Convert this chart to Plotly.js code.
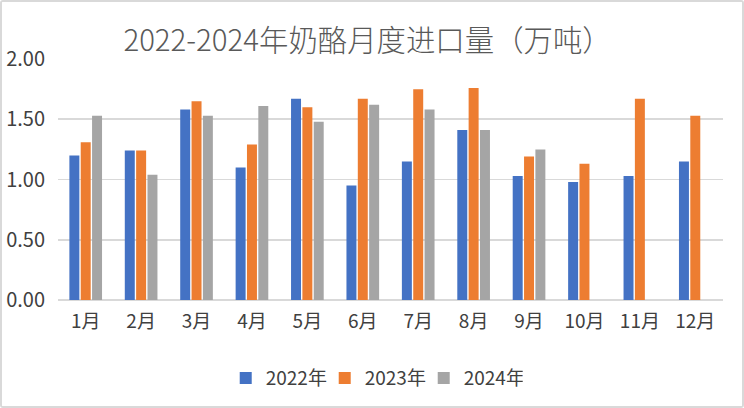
<!DOCTYPE html>
<html>
<head>
<meta charset="utf-8">
<script src="https://cdn.plot.ly/plotly-3.0.1.min.js"></script>
<style>
html,body{margin:0;padding:0;background:#fff;}
#wrap{width:744px;height:408px;box-sizing:border-box;border:2px solid #d9d9d9;border-radius:3px;overflow:hidden;}
#chart{width:740px;height:404px;}
</style>
</head>
<body>
<div id="wrap"><div id="chart"></div></div>
<script>
const months = ["1月","2月","3月","4月","5月","6月","7月","8月","9月","10月","11月","12月"];
const v2022 = [1.20,1.24,1.58,1.10,1.67,0.95,1.15,1.41,1.03,0.98,1.03,1.15];
const v2023 = [1.31,1.24,1.65,1.29,1.60,1.67,1.75,1.76,1.19,1.13,1.67,1.53];
const v2024 = [1.53,1.04,1.53,1.61,1.48,1.62,1.58,1.41,1.25,null,null,null];
const seriesNames = ["2022年","2023年","2024年"];
const colors = ["#4472C4","#ED7D31","#A5A5A5"];
const titleText = "2022-2024年奶酪月度进口量（万吨）";
const yTicks = [0,0.5,1,1.5,2];

const FONT = '"Noto Sans CJK SC", "Noto Sans", sans-serif';
const data = [v2022,v2023,v2024].map((vals,i)=>({
  type:'bar', x:months, y:vals, name:seriesNames[i],
  marker:{color:colors[i], line:{width:0}},
  hoverinfo:'x+y+name'
}));

const layout = {
  width:740, height:404,
  margin:{l:56, r:19, t:57, b:106},
  paper_bgcolor:'#fff', plot_bgcolor:'#fff',
  font:{family:FONT, size:19, color:'#404040'},
  title:{text:titleText, font:{family:FONT, size:29.4, color:'#595959', weight:300},
         x:0.494, xref:'container', xanchor:'center', y:0.905, yref:'container', yanchor:'middle'},
  barmode:'group', bargap:0.386, bargroupgap:0.12,
  xaxis:{type:'category', showgrid:false, zeroline:false, showline:false, ticks:'',
         tickfont:{family:FONT, size:19, color:'#404040'}, ticklabelstandoff:8},
  yaxis:{range:[0,2], tickvals:yTicks, tickformat:'.2f', showgrid:true, gridcolor:'#d9d9d9', gridwidth:1.8,
         zeroline:true, zerolinecolor:'#d9d9d9', zerolinewidth:1.8, showline:false, ticks:'',
         tickfont:{family:FONT, size:20, color:'#404040'}, ticklabelstandoff:12},
  legend:{orientation:'h', x:0.503, xanchor:'center', xref:'container', y:0.069, yanchor:'middle', yref:'container',
          font:{family:FONT, size:19, color:'#404040'}, bgcolor:'rgba(0,0,0,0)', entrywidth:54},
  showlegend:true
};
Plotly.newPlot('chart', data, layout, {displayModeBar:false, staticPlot:true});
</script>
</body>
</html>
